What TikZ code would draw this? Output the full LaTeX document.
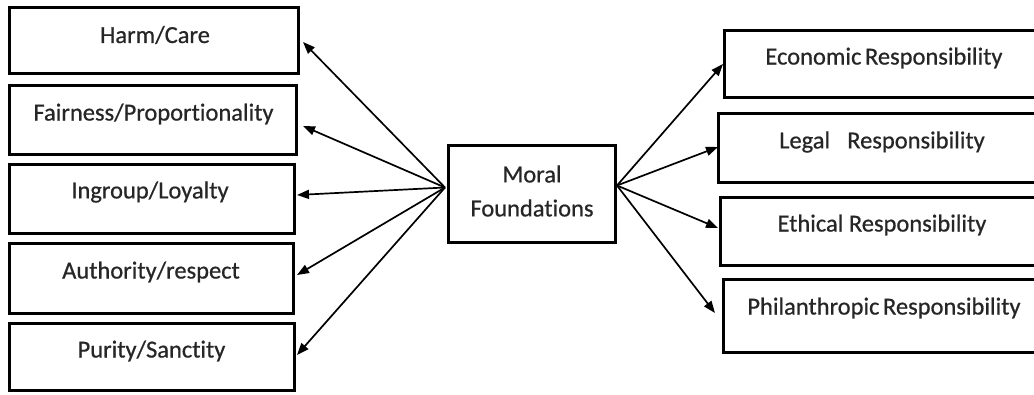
\documentclass[tikz,border=0pt]{standalone}
\usepackage{fontspec}
\setmainfont{Carlito}[Ligatures={NoCommon,NoRare},FakeBold=0.6]
\usetikzlibrary{arrows.meta,calc}
\begin{document}
\begin{tikzpicture}[x=1pt,y=-1pt,
  box/.style={draw=black,line width=3pt,fill=white,rectangle,inner sep=0pt,outer sep=0pt},
  lbl/.style={font=\fontsize{24.5}{29}\selectfont,text=black!85,inner sep=0pt,anchor=center},
  conn/.style={line width=1.7pt,-{Triangle[length=12pt,width=9pt]}}]
\useasboundingbox (0,0) rectangle (1034,394);
\clip (0,0) rectangle (1034,394);
% left boxes
\node[box,minimum width=289pt,minimum height=66pt] (harm) at (153.5,40) {};
\node[box,minimum width=287pt,minimum height=69pt] (fair) at (152.5,119.5) {};
\node[box,minimum width=285pt,minimum height=69pt] (ingr) at (151.5,198.5) {};
\node[box,minimum width=284pt,minimum height=70pt] (auth) at (151,278) {};
\node[box,minimum width=285pt,minimum height=67pt] (pur) at (151.5,356.5) {};
\node[lbl] (harmT) at (155,35) {Harm/Care};
\node[lbl] (fairT) at (153.5,114) {Fairness/Proportionality};
\node[lbl] (ingrT) at (150,192) {Ingroup/Loyalty};
\node[lbl] (authT) at (151,272) {Authority/respect};
\node[lbl] (purT) at (151.5,351) {Purity/Sanctity};
% center
\node[box,minimum width=167pt,minimum height=97pt] (mf) at (531.5,193.5) {};
\node[lbl,align=center,font=\fontsize{24.5}{34}\selectfont] (mfT) at (532,191) {Moral\\Foundations};
% right boxes
\node[box,minimum width=320pt,minimum height=67pt] (econ) at (884,63.5) {};
\node[box,minimum width=326pt,minimum height=69pt] (legal) at (881,147.5) {};
\node[box,minimum width=324pt,minimum height=68pt] (eth) at (882,231) {};
\node[box,minimum width=321pt,minimum height=73pt] (phil) at (883.5,315.5) {};
\node[lbl] (econT) at (884,58) {Economic\hspace{-0.08em} Responsibility};
\node[lbl] (legalT) at (882,142) {Legal\hspace{0.7em}Responsibility};
\node[lbl] (ethT) at (882,225) {Ethical Responsibility};
\node[lbl] (philT) at (884,308) {Philanthropic\hspace{-0.08em} Responsibility};
% origins
\coordinate (oL) at ($(mf.west)+(-3,-6)$);
\coordinate (oR) at ($(mf.east)+(2,-8)$);
% left arrows
\draw[conn] (oL) -- ($(harm.east)+(5,2)$);
\draw[conn] (oL) -- ($(fair.east)+(7,6.5)$);
\draw[conn] (oL) -- ($(ingr.east)+(3,-3.5)$);
\draw[conn] (oL) -- ($(auth.east)+(4,-3)$);
\draw[conn] (oL) -- ($(pur.east)+(3,-1.5)$);
% right arrows
\draw[conn] (oR) -- ($(econ.west)+(-1,0.5)$);
\draw[conn] (oR) -- ($(legal.west)+(-0,-0.5)$);
\draw[conn] (oR) -- ($(eth.west)+(-2,-3)$);
\draw[conn] (oR) -- ($(phil.west)+(-8,-2.5)$);
\end{tikzpicture}
\end{document}
